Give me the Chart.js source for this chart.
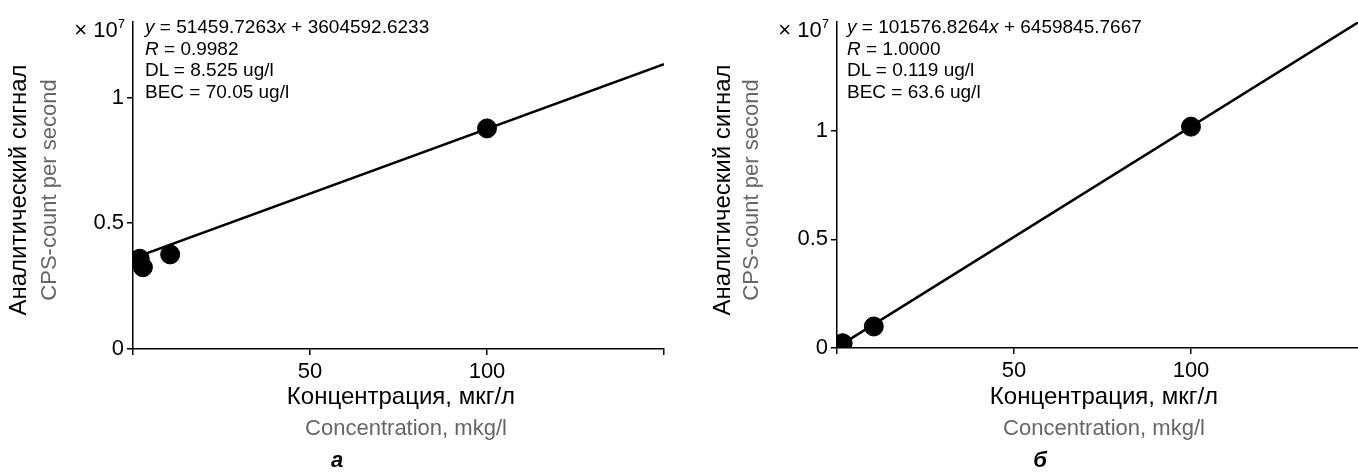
<!DOCTYPE html>
<html><head><meta charset="utf-8">
<script src="https://cdn.jsdelivr.net/npm/chart.js@4.4.1/dist/chart.umd.min.js"></script>
<style>
html,body{margin:0;padding:0;background:#fff;overflow:hidden;width:1358px;height:473px;}
body{position:relative;font-family:"Liberation Sans",Arial,sans-serif;color:#000;}
canvas{position:absolute;top:0;}
.t{position:absolute;white-space:nowrap;transform:translate(-50%,-50%);line-height:1;}
.gray{color:#666;}
.eq{position:absolute;font-size:19px;line-height:21.5px;white-space:nowrap;}
.mult{position:absolute;font-size:22px;white-space:nowrap;line-height:1;transform:translate(-100%,-50%);}
.mult sup{font-size:13px;position:relative;top:-2px;vertical-align:top;}
.letter{font-weight:bold;font-style:italic;}
</style></head><body>
<canvas id="ca" width="679" height="473" style="left:0"></canvas>
<canvas id="cb" width="679" height="473" style="left:704px"></canvas>

<div class="t" style="left:18px;top:190px;font-size:24px;transform:translate(-50%,-50%) rotate(-90deg)">Аналитический сигнал</div>
<div class="t gray" style="left:49px;top:190px;font-size:22px;transform:translate(-50%,-50%) rotate(-90deg)">CPS-count per second</div>
<div class="t" style="left:722px;top:190px;font-size:24px;transform:translate(-50%,-50%) rotate(-90deg)">Аналитический сигнал</div>
<div class="t gray" style="left:751px;top:190px;font-size:22px;transform:translate(-50%,-50%) rotate(-90deg)">CPS-count per second</div>

<div class="t" style="left:401px;top:396px;font-size:24px">Концентрация, мкг/л</div>
<div class="t gray" style="left:406px;top:428px;font-size:22px">Concentration, mkg/l</div>
<div class="t" style="left:1104px;top:396px;font-size:24px">Концентрация, мкг/л</div>
<div class="t gray" style="left:1104px;top:428px;font-size:22px">Concentration, mkg/l</div>

<div class="t letter" style="left:337px;top:460px;font-size:22px">а</div>
<div class="t letter" style="left:1040px;top:460px;font-size:22px">б</div>

<div class="mult" style="left:125px;top:30px">× 10<sup>7</sup></div>
<div class="mult" style="left:829px;top:30px">× 10<sup>7</sup></div>

<div class="eq" style="left:145px;top:16px"><i>y</i> = 51459.7263<i>x</i> + 3604592.6233<br><i>R</i> = 0.9982<br>DL = 8.525 ug/l<br>BEC = 70.05 ug/l</div>
<div class="eq" style="left:847px;top:16px"><i>y</i> = 101576.8264<i>x</i> + 6459845.7667<br><i>R</i> = 1.0000<br>DL = 0.119 ug/l<br>BEC = 63.6 ug/l</div>

<script>
// ---- data ----
const xTickValues = [0, 50, 100, 150];
const xTickLabels = ['', '50', '100', ''];
const yTickValues = [0, 5000000, 10000000];
const yTickLabels = ['0', '0.5', '1'];

// panel а
const concA = [1.9, 2.8, 10.5, 100];
const signalA = [3590000, 3250000, 3760000, 8770000];
const fitConcA = [0, 150];
const fitSignalA = [3604593, 11323552];

// panel б
const concB = [1.6, 10.4, 100];
const signalB = [220000, 990000, 10185000];
const fitConcB = [0, 150];
const fitSignalB = [30000, 15266524];

const FONT = {family: '"Liberation Sans", Arial, sans-serif', size: 22};

function makeChart(id, cx, cy, fx, fy, yMax, xScaleH) {
  const pts = cx.map((x, i) => ({x: x, y: cy[i]}));
  const fit = fx.map((x, i) => ({x: x, y: fy[i]}));
  return new Chart(document.getElementById(id), {
    type: 'scatter',
    data: {datasets: [
      {data: fit, showLine: true, borderColor: '#000', borderWidth: 2.5, pointRadius: 0, pointHoverRadius: 0, order: 2},
      {data: pts, showLine: false, backgroundColor: '#000', borderColor: '#000', pointRadius: 9.5, pointHoverRadius: 9.5, order: 1}
    ]},
    options: {
      responsive: false, animation: false, devicePixelRatio: 1,
      layout: {padding: {left: 0, top: 22, right: 15, bottom: 0}},
      plugins: {legend: {display: false}, tooltip: {enabled: false}},
      scales: {
        x: {
          type: 'linear', min: 0, max: 150,
          afterBuildTicks: s => { s.ticks = xTickValues.map(v => ({value: v})); },
          afterFit: s => { s.height = xScaleH; },
          ticks: {color: '#000', font: FONT, padding: 4, maxRotation: 0, autoSkip: false,
                  callback: (v, i) => xTickLabels[i]},
          grid: {drawOnChartArea: false, drawTicks: true, tickLength: 6, color: '#000', lineWidth: 1.5},
          border: {display: true, color: '#000', width: 1.5}
        },
        y: {
          type: 'linear', min: 0, max: yMax,
          afterBuildTicks: s => { s.ticks = yTickValues.map(v => ({value: v})); },
          afterFit: s => { s.width = 133; },
          ticks: {color: '#000', font: FONT, padding: 3, autoSkip: false,
                  callback: (v, i) => yTickLabels[i]},
          grid: {drawOnChartArea: false, drawTicks: true, tickLength: 6, color: '#000', lineWidth: 1.5},
          border: {display: true, color: '#000', width: 1.5}
        }
      }
    }
  });
}

makeChart('ca', concA, signalA, fitConcA, fitSignalA, 13000000, 124);
makeChart('cb', concB, signalB, fitConcB, fitSignalB, 15000000, 125);
</script>
</body></html>
